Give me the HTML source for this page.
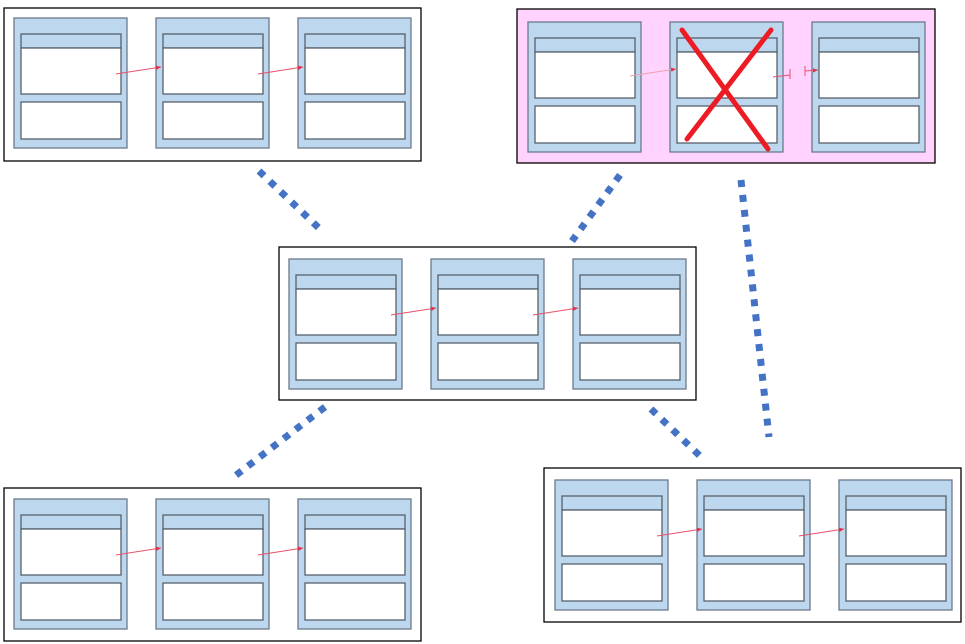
<!DOCTYPE html>
<html><head><meta charset="utf-8"><style>body{margin:0;background:#fff}svg{display:block}</style></head>
<body>
<svg width="965" height="644" viewBox="0 0 965 644" xmlns="http://www.w3.org/2000/svg">
<defs>
<marker id="ah" markerWidth="6" markerHeight="6" refX="5" refY="3" orient="auto"><path d="M0,0.8 L5,3 L0,5.2z" fill="#e0304a"/></marker>
<g id="node">
<rect x="0" y="0" width="113" height="130" fill="#bdd7ee" stroke="#6b7a8a" stroke-width="1.3"/>
<rect x="7" y="16" width="100" height="14" fill="#bdd7ee" stroke="#56606b" stroke-width="1.3"/>
<rect x="7" y="30" width="100" height="46" fill="#fff" stroke="#56606b" stroke-width="1.3"/>
<rect x="7" y="84" width="100" height="37" fill="#fff" stroke="#56606b" stroke-width="1.3"/>
</g>
<g id="grp">
<use href="#node" x="10" y="10"/>
<use href="#node" x="152" y="10"/>
<use href="#node" x="294" y="10"/>
<line x1="112" y1="66" x2="157" y2="59" stroke="#e8506a" stroke-width="1" marker-end="url(#ah)"/>
<line x1="254" y1="66" x2="299" y2="59" stroke="#e8506a" stroke-width="1" marker-end="url(#ah)"/>
</g>
</defs>
<rect x="4" y="8" width="417" height="153" fill="#fff" stroke="#000" stroke-width="1.3"/>
<use href="#grp" x="4" y="8"/>
<rect x="279" y="247" width="417" height="153" fill="#fff" stroke="#000" stroke-width="1.3"/>
<use href="#grp" x="279" y="249"/>
<rect x="4" y="488" width="417" height="153" fill="#fff" stroke="#000" stroke-width="1.3"/>
<use href="#grp" x="4" y="489"/>
<rect x="544" y="468" width="417" height="154" fill="#fff" stroke="#000" stroke-width="1.3"/>
<use href="#grp" x="545" y="470"/>
<rect x="517" y="9" width="418" height="154" fill="#ffd3fd" stroke="#000" stroke-width="1.3"/>
<use href="#node" x="528" y="22"/>
<use href="#node" x="670" y="22"/>
<use href="#node" x="812" y="22"/>
<line x1="630" y1="76" x2="676" y2="69" stroke="#f0a0b0" stroke-width="1" marker-end="url(#ah)"/>
<line x1="773" y1="77" x2="790" y2="75" stroke="#e8506a" stroke-width="1"/>
<line x1="790" y1="69" x2="790" y2="79" stroke="#e8506a" stroke-width="1"/>
<line x1="805" y1="66" x2="805" y2="76" stroke="#e8506a" stroke-width="1"/>
<line x1="805" y1="71" x2="818" y2="70" stroke="#e8506a" stroke-width="1" marker-end="url(#ah)"/>
<g stroke="#ed1c24" stroke-width="5" stroke-linecap="round">
<line x1="682" y1="30" x2="768" y2="149"/>
<line x1="771" y1="30" x2="687" y2="139"/>
</g>
<g stroke="#4472c4" stroke-width="7" stroke-dasharray="7 8" fill="none">
<line x1="259" y1="171" x2="323" y2="232"/>
<line x1="620" y1="175" x2="572" y2="241"/>
<line x1="741" y1="180" x2="769" y2="437"/>
<line x1="325" y1="407" x2="231" y2="479"/>
<line x1="651" y1="409" x2="700" y2="456"/>
</g>
</svg>
</body></html>
